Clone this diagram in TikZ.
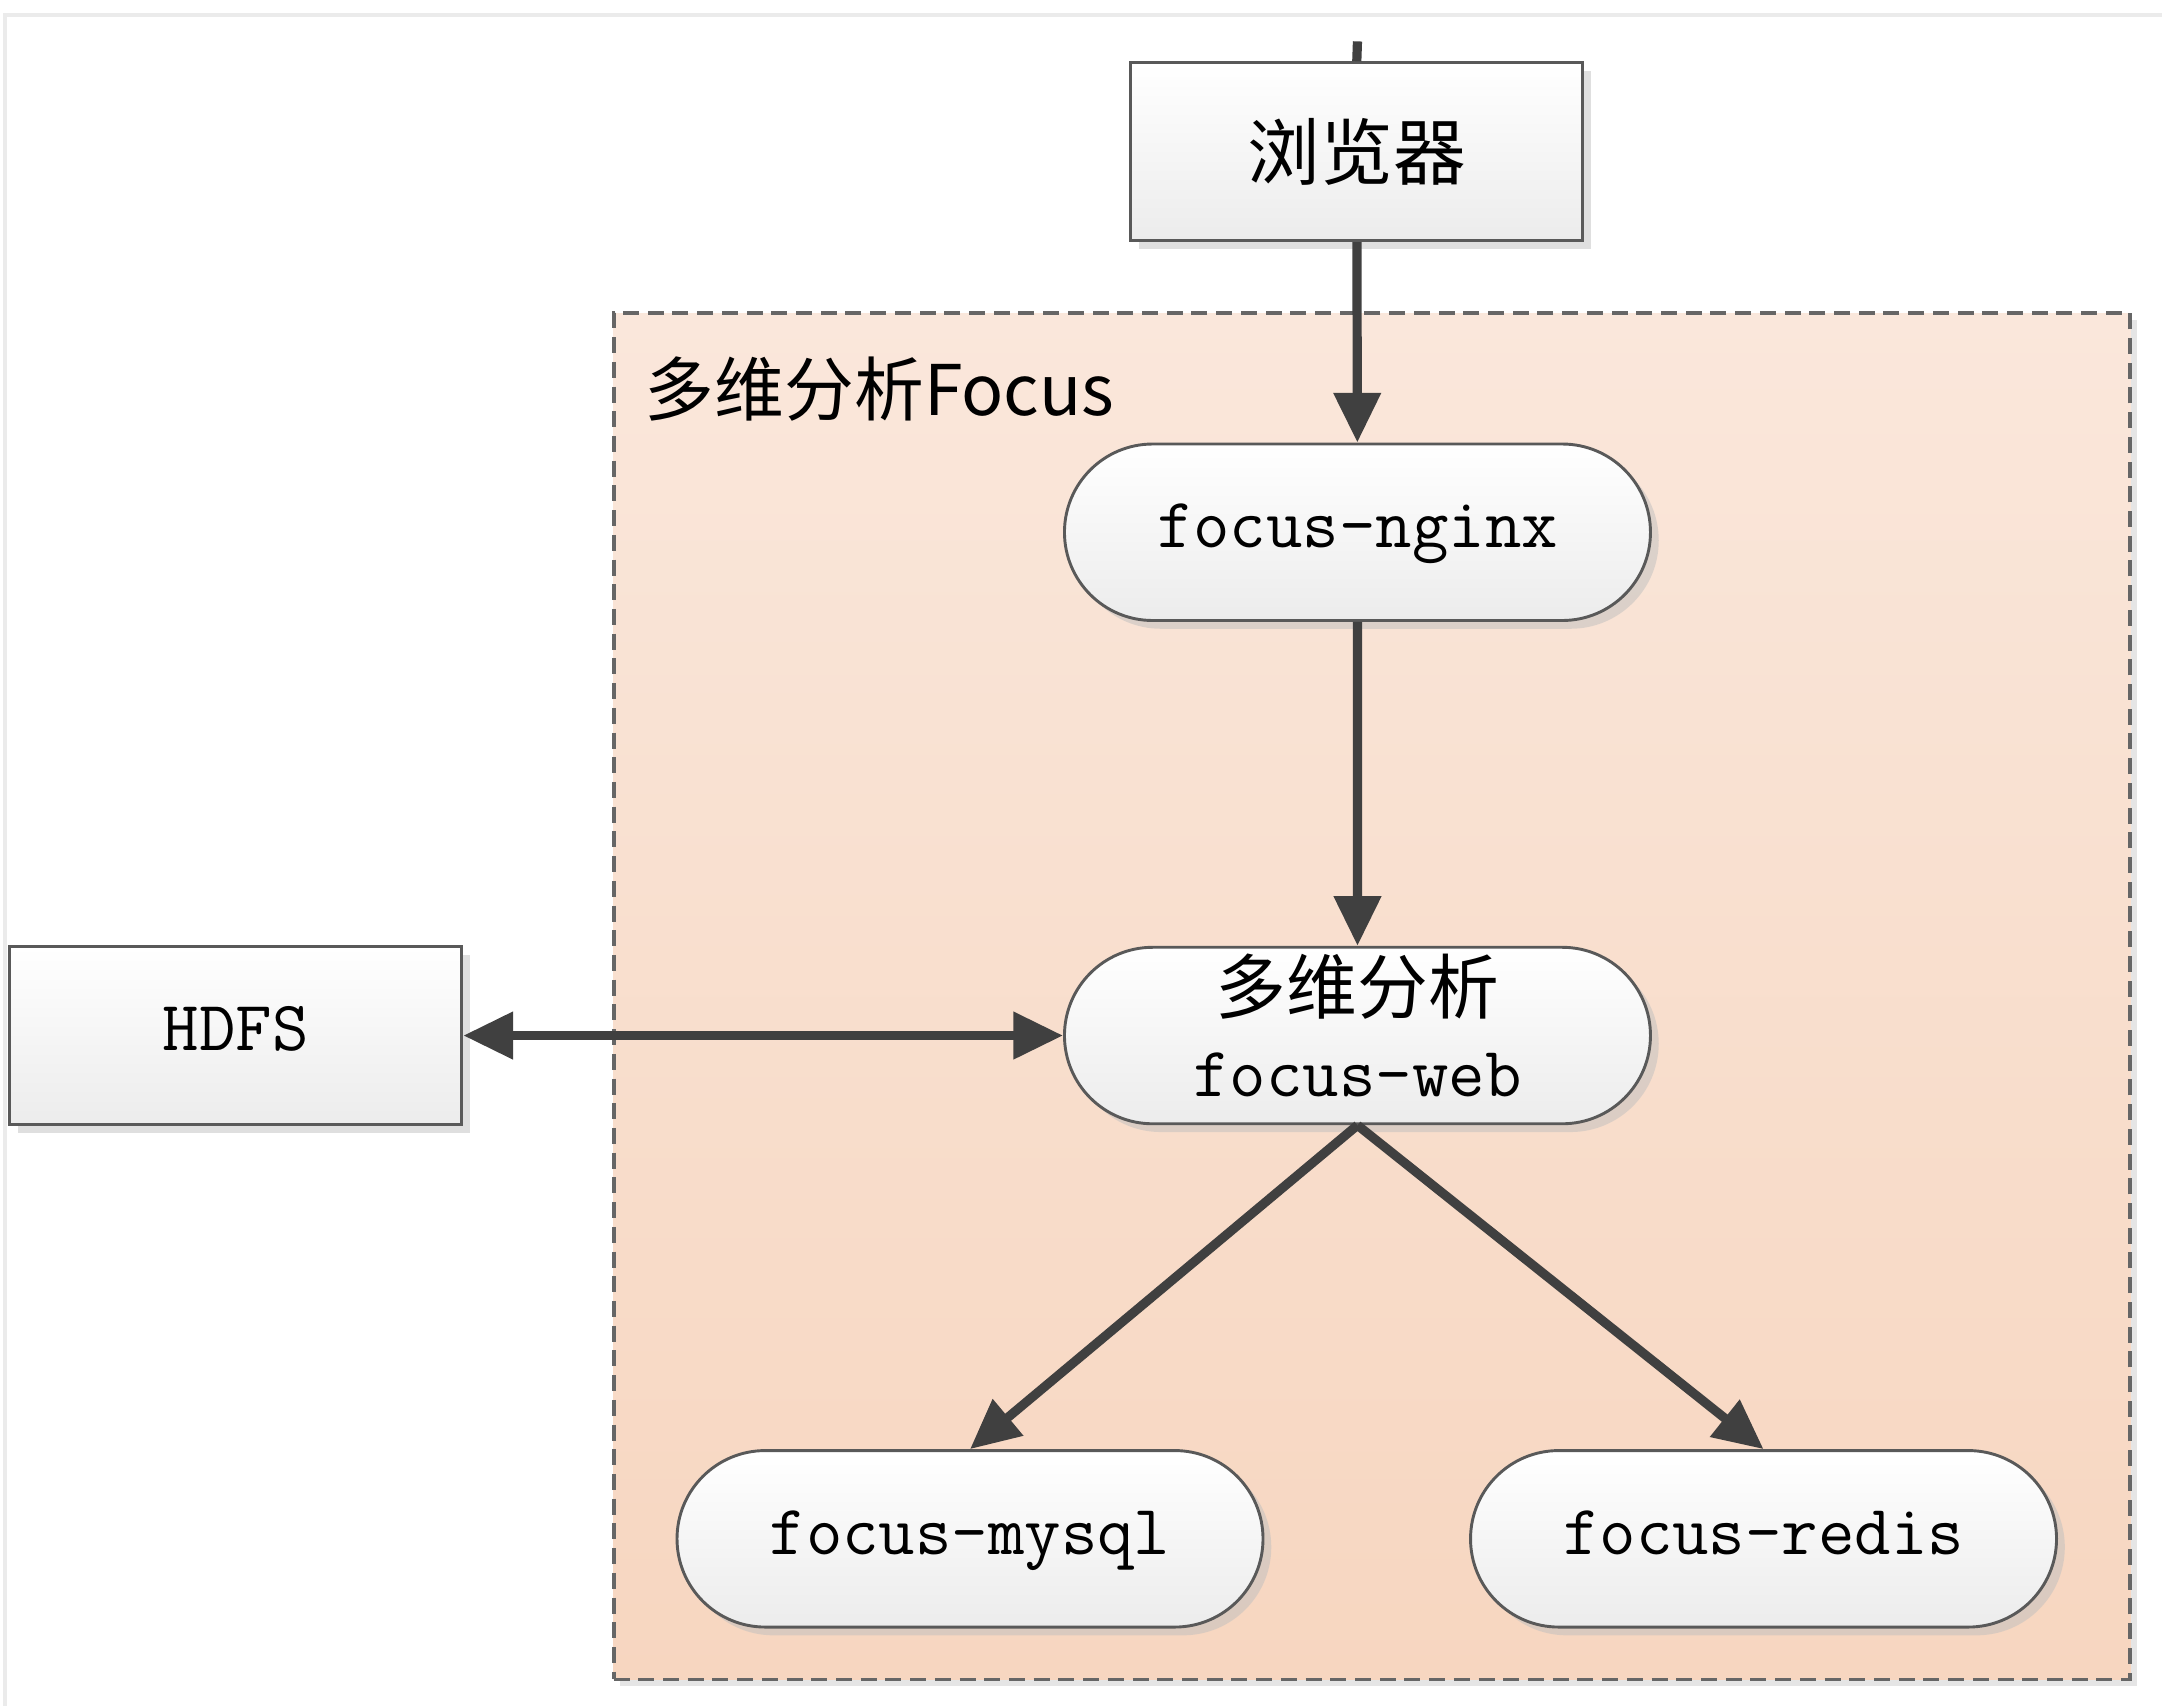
\documentclass[tikz,border=0pt]{standalone}
\usepackage{fontspec}
\newfontfamily\cjk{Noto Sans CJK SC}
\usetikzlibrary{shapes.misc,shadows,arrows.meta}
\definecolor{linegray}{HTML}{404040}
\definecolor{framegray}{HTML}{EBEBEB}
\definecolor{peachtop}{HTML}{FAE7DB}
\definecolor{peachbot}{HTML}{F7D6C0}
\definecolor{boxgray}{HTML}{ECECEC}
\begin{document}
\begin{tikzpicture}[>={Triangle[length=3.6mm,width=3.3mm]},
    box/.style={draw=black!65, line width=0.6pt, top color=white, bottom color=boxgray,
      drop shadow={shadow xshift=0.6mm, shadow yshift=-0.6mm, fill=black!25},
      minimum width=3.28cm, minimum height=1.29cm, inner sep=0pt},
    pill/.style={box, rounded rectangle, minimum width=4.25cm, minimum height=1.28cm},
    link/.style={draw=linegray, line width=1.9pt},
    cn/.style={font=\cjk\fontsize{15pt}{18pt}\selectfont},
    tt/.style={font=\ttfamily\fontsize{14.6pt}{18.5pt}\selectfont},
    one/.style={text height=0.85em, text depth=0.22em}]
  \useasboundingbox (0,0) rectangle (15.68,-12.37);
  \draw[framegray, line width=0.9pt] (0.036,-12.37) |- (15.68,-0.11);
  % group
  \node[draw=black!60, line width=0.8pt, dash pattern=on 3.3pt off 1.8pt,
    top color=peachtop, bottom color=peachbot,
    drop shadow={shadow xshift=0.5mm, shadow yshift=-0.5mm, fill=black!20},
    minimum width=11cm, minimum height=9.91cm] (focus) at (9.95,-7.225) {};
  \node[font=\cjk\fontsize{14.4pt}{18pt}\selectfont, anchor=west, inner sep=0pt]
    (focuslabel) at (4.67,-2.82) {多维分析Focus};
  % nodes
  \node[box, cn] (browser) at (9.84,-1.10) {浏览器};
  \node[pill, tt, one] (nginx) at (9.845,-3.86) {focus-nginx};
  \node[pill, tt, align=center] (web) at (9.845,-7.51)
    {{\cjk 多维分析}\\[-1.4pt]focus-web\rule[-4.3pt]{0pt}{0pt}};
  \node[box, tt, one] (hdfs) at (1.71,-7.51) {HDFS};
  \node[pill, tt, one] (mysql) at (7.035,-11.16) {focus-mysql};
  \node[pill, tt, one] (redis) at (12.79,-11.16) {focus-redis};
  % connectors
  \coordinate (top) at (9.845,-0.30);
  \draw[link] (top) -- (browser.north);
  \draw[link, ->] (browser) -- (nginx);
  \draw[link, ->] (nginx) -- (web);
  \draw[link, <->] (hdfs) -- (web);
  \draw[link, ->] (web.south) -- (mysql.north);
  \draw[link, ->] (web.south) -- (redis.north);
\end{tikzpicture}
\end{document}
